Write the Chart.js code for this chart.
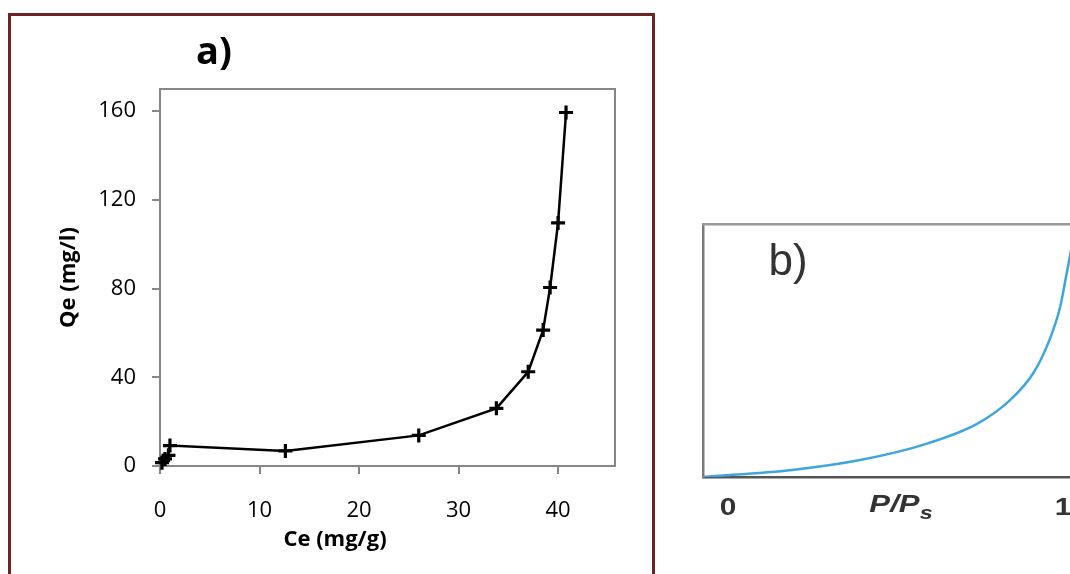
<!DOCTYPE html>
<html>
<head>
<meta charset="utf-8">
<script src="https://cdn.jsdelivr.net/npm/chart.js@4.4.1/dist/chart.umd.min.js"></script>
<style>
  html, body { margin: 0; padding: 0; background: #fff; }
  body { width: 1070px; height: 574px; overflow: hidden; position: relative; }
  #frameA { position: absolute; left: 8px; top: 13px; width: 647px; height: 600px; box-sizing: border-box; border: 3px solid #6b2527; }
  #chartA { position: absolute; left: 55px; top: 0; }
  #chartB { position: absolute; left: 660px; top: 200px; }
  .lbl { position: absolute; white-space: nowrap; line-height: 1; transform: translate(-50%, -50%); }
  .lbl sub { font-size: 75%; vertical-align: -0.4em; line-height: 0; }
</style>
</head>
<body>
<div id="frameA"></div>
<canvas id="chartA" width="570" height="574"></canvas>
<canvas id="chartB" width="440" height="374"></canvas>

<div class="lbl" style="left:214px; top:49px; font:bold 38px 'Open Sans'; color:#000;">a)</div>
<div class="lbl" style="left:788px; top:260px; font:44px 'Liberation Sans'; color:#333;">b)</div>
<div class="lbl" style="left:728px; top:507px; font:bold 23px 'Liberation Sans'; color:#333; transform:translate(-50%,-50%) scaleX(1.3);">0</div>
<div class="lbl" style="left:901px; top:504px; font:italic bold 24px 'Liberation Sans'; color:#333; transform:translate(-50%,-50%) scaleX(1.3);">P/P<sub>s</sub></div>
<div class="lbl" style="left:1063px; top:507px; font:bold 23px 'Liberation Sans'; color:#333; transform:translate(-50%,-50%) scaleX(1.3);">1</div>

<script>
// panel a) — Ce (mg/g) vs Qe (mg/l)
const ceValues = [0.2, 0.5, 0.85, 1.0, 12.6, 26.0, 33.8, 37.0, 38.5, 39.2, 40.0, 40.8];
const qeValues = [1.5, 3.2, 4.8, 9.2, 6.8, 13.8, 26.0, 42.5, 61.3, 80.5, 109.6, 159.4];
const ceTicks = [0, 10, 20, 30, 40];
const qeTicks = [0, 40, 80, 120, 160];
const ceRange = [0, 45.7];
const qeRange = [0, 170];

// panel b) — P/Ps curve (relative amount adsorbed)
const ppsValues = [0, 0.25, 0.44, 0.63, 0.77, 0.86, 0.925, 0.97, 1.0, 1.018, 1.03, 1.045];
const adsValues = [0, 0.028, 0.067, 0.133, 0.212, 0.304, 0.41, 0.54, 0.67, 0.80, 0.89, 1.02];
const ppsRange = [0, 1.056];
const adsRange = [0, 1];

const axisGray = '#868686';
const tickFont = { family: 'Open Sans', size: 22 };
const titleFont = { family: 'Open Sans', size: 22, weight: 'bold' };

const keepTicks = (values) => (scale) => {
  scale.ticks = values.map((v) => ({ value: v }));
};
const toPoints = (xs, ys) => xs.map((x, i) => ({ x, y: ys[i] }));
// invisible axes only used to draw the box edges
const edgeAxis = (position, color, width) => ({
  type: 'linear',
  position,
  ticks: { display: false },
  grid: { display: false },
  border: { display: true, color, width },
  afterFit: (scale) => {
    if (position === 'top' || position === 'bottom') scale.height = 0;
    else scale.width = 0;
  },
});

new Chart(document.getElementById('chartA'), {
  type: 'line',
  data: {
    datasets: [{
      data: toPoints(ceValues, qeValues),
      borderColor: '#000',
      borderWidth: 2.5,
      tension: 0,
      pointStyle: 'cross',
      pointRadius: 7,
      pointBorderWidth: 3.2,
      pointBorderColor: '#000',
      clip: false,
    }],
  },
  options: {
    responsive: false,
    animation: false,
    devicePixelRatio: 1,
    layout: { padding: { left: 0, right: 10, top: 89, bottom: 20.8 } },
    plugins: {
      legend: { display: false },
      tooltip: { enabled: false },
      subtitle: {
        display: true,
        position: 'bottom',
        text: 'Ce (mg/g)',
        color: '#000',
        font: titleFont,
        padding: 0,
      },
    },
    scales: {
      x: {
        type: 'linear',
        position: 'bottom',
        min: ceRange[0],
        max: ceRange[1],
        afterBuildTicks: keepTicks(ceTicks),
        afterFit: (scale) => { scale.height = 60.8; },
        grid: { drawOnChartArea: false, tickLength: 8, color: axisGray, lineWidth: 2 },
        border: { color: axisGray, width: 2 },
        ticks: { font: tickFont, color: '#000', padding: 24, maxRotation: 0, autoSkip: false },
      },
      y: {
        type: 'linear',
        position: 'left',
        min: qeRange[0],
        max: qeRange[1],
        afterBuildTicks: keepTicks(qeTicks),
        afterFit: (scale) => { scale.width = 105; },
        grid: { drawOnChartArea: false, tickLength: 8, color: axisGray, lineWidth: 2 },
        border: { color: axisGray, width: 2 },
        ticks: { font: tickFont, color: '#000', padding: 16, autoSkip: false },
        title: {
          display: true,
          text: 'Qe (mg/l)',
          color: '#000',
          font: titleFont,
          padding: { top: 0.8, bottom: 0 },
        },
      },
      xTop: edgeAxis('top', axisGray, 2),
      yRight: edgeAxis('right', axisGray, 2),
    },
  },
});

new Chart(document.getElementById('chartB'), {
  type: 'line',
  data: {
    datasets: [{
      data: toPoints(ppsValues, adsValues),
      borderColor: '#3ea6de',
      borderWidth: 2.5,
      pointRadius: 0,
      cubicInterpolationMode: 'monotone',
    }],
  },
  options: {
    responsive: false,
    animation: false,
    devicePixelRatio: 1,
    layout: { padding: { left: 43, right: 20, top: 24, bottom: 97 } },
    plugins: {
      legend: { display: false },
      tooltip: { enabled: false },
    },
    scales: {
      x: { ...edgeAxis('bottom', '#555', 2.5), min: ppsRange[0], max: ppsRange[1] },
      y: { ...edgeAxis('left', '#7a7a7a', 2.5), min: adsRange[0], max: adsRange[1] },
      xTop: edgeAxis('top', '#9a9a9a', 2.5),
    },
  },
});
</script>
</body>
</html>
